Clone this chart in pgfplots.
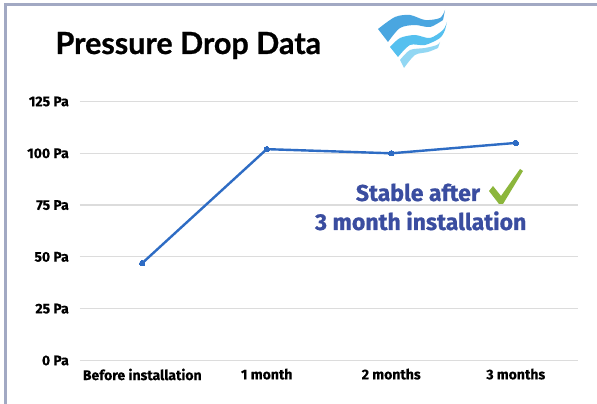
\documentclass[border=0pt]{standalone}
\usepackage{pgfplots}
\pgfplotsset{compat=1.18}
\usepackage{fontspec}
\setmainfont{Fira Sans}
\newfontfamily\condfont{Fira Sans}[BoldFeatures={FakeBold=0.4}]
\newfontfamily\annofont{Fira Sans}[BoldFeatures={FakeBold=0.7}]
\newfontfamily\titlefont{Lato}[BoldFeatures={FakeBold=0.8}]
\definecolor{linec}{HTML}{2E6CC4}
\definecolor{gridc}{HTML}{DCDCDC}
\definecolor{framec}{HTML}{A2A9C3}
\definecolor{annoc}{HTML}{3A4DA0}
\definecolor{checkc}{HTML}{8CB63C}
\definecolor{waveA}{HTML}{4AA6E0}
\definecolor{waveB}{HTML}{55C0EF}
\definecolor{waveC}{HTML}{92D7F3}
\begin{document}
\begin{tikzpicture}[x=1pt,y=1pt]
\fill[white] (-80,-43.5) rectangle (517,360.5);
\fill[framec] (-76,-43.5) rectangle (-73,357);
\fill[framec] (-76,354) rectangle (517,357);
\begin{axis}[
  at={(0,0)}, anchor=south west,
  scale only axis, width=498pt, height=259pt,
  xmin=-0.5, xmax=3.5, ymin=0, ymax=125,
  xtick={0,1,2,3},
  xticklabels={Before installation,1 month,2 months,3 months},
  ytick={0,25,50,75,100,125},
  yticklabels={0 Pa,25 Pa,50 Pa,75 Pa,100 Pa,125 Pa},
  ymajorgrids, grid style={gridc, line width=1.2pt},
  axis line style={draw=none},
  major tick length=0pt, tick style={draw=none},
  xticklabel style={font=\condfont\bfseries\fontsize{14}{14}\selectfont, inner sep=0pt, anchor=north, yshift=-8pt},
  yticklabel style={font=\condfont\bfseries\fontsize{14}{14}\selectfont, inner sep=0pt, anchor=east, xshift=-11pt},
  clip=false,
]
\addplot[linec, line width=2.4pt, mark=*, mark size=2.7pt, mark options={fill=linec,draw=linec,line width=0pt}]
  coordinates {(0,47)(1,102)(2,100)(3,105)};
\end{axis}
\begin{scope}[shift={(-80,-43.5)}]
\node[anchor=base west, font=\titlefont\bfseries\fontsize{30.5}{30.5}\selectfont] at (52,350) {Pressure Drop Data};
% logo
\fill[waveA] plot[smooth] coordinates {(378,375) (395,387) (410,389) (425,384) (440,386) (445,394)}
  -- plot[smooth] coordinates {(443,384) (430,377) (415,379) (400,376) (388,362)} -- cycle;
\fill[waveB] plot[smooth] coordinates {(390,357) (400,366) (415,369) (430,366) (443,374) (447,382)}
  -- plot[smooth] coordinates {(445,374) (440,366) (425,359) (410,359) (398,347)} -- cycle;
\fill[waveC] plot[smooth] coordinates {(400,344) (410,354) (425,356) (437,359) (440,362)}
  -- plot[smooth] coordinates {(438,356) (428,352) (415,349) (404,336)} -- cycle;
% annotation
\node[anchor=base, text=annoc, font=\annofont\bfseries\fontsize{23}{23}\selectfont] at (418,203) {Stable after};
\node[anchor=base, text=annoc, font=\annofont\bfseries\fontsize{23}{23}\selectfont] at (420.7,174) {3 month installation};
\fill[checkc] (489,213) -- (493,218) -- (501,208) -- (520,235) -- (523,233) -- (503,200) -- (499,200) -- cycle;
\end{scope}
\pgfresetboundingbox
\path[use as bounding box] (-80,-43.5) rectangle (517,360.5);
\end{tikzpicture}
\end{document}
